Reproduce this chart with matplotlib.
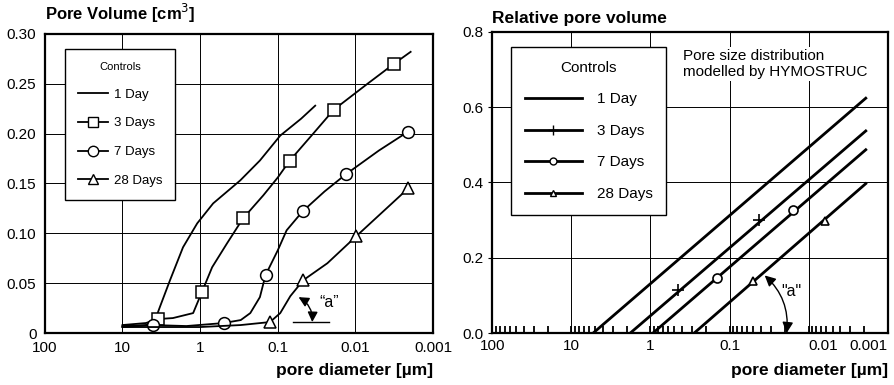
import numpy as np
import matplotlib
matplotlib.use("Agg")
import matplotlib.pyplot as plt

plt.rcParams['font.family'] = ['Liberation Sans', 'DejaVu Sans']

# ---- left panel: measured pore volume (cm3) vs pore diameter (um)
labels = ["1 Day", "3 Days", "7 Days", "28 Days"]

d1 = [10, 5, 3.8, 3.3, 2.44, 1.66, 1.09, 0.68, 0.305, 0.17, 0.093, 0.05, 0.033]
v1 = [0.007, 0.008, 0.013, 0.026, 0.053, 0.086, 0.110, 0.130, 0.153, 0.173, 0.198, 0.215, 0.228]

d3 = [10, 5, 3.5, 2.24, 1.23, 0.95, 0.70, 0.45, 0.28, 0.154, 0.10, 0.07, 0.035, 0.019, 0.007, 0.0032, 0.00195]
v3 = [0.008, 0.010, 0.014, 0.015, 0.020, 0.041, 0.066, 0.090, 0.115, 0.138, 0.156, 0.173, 0.200, 0.224, 0.250, 0.270, 0.282]
d3_mk = [3.5, 0.95, 0.28, 0.07, 0.019, 0.0032]
v3_mk = [0.014, 0.041, 0.115, 0.173, 0.224, 0.270]

d7 = [10, 4.1, 1.5, 0.5, 0.3, 0.226, 0.17, 0.144, 0.10, 0.077, 0.048, 0.025, 0.0134, 0.005, 0.0021]
v7 = [0.006, 0.008, 0.007, 0.010, 0.013, 0.020, 0.036, 0.058, 0.083, 0.103, 0.122, 0.142, 0.159, 0.183, 0.202]
d7_mk = [4.1, 0.5, 0.144, 0.048, 0.0134, 0.0021]
v7_mk = [0.008, 0.010, 0.058, 0.122, 0.159, 0.202]

d28 = [10, 1, 0.3, 0.126, 0.093, 0.069, 0.047, 0.023, 0.0098, 0.0021]
v28 = [0.006, 0.006, 0.008, 0.011, 0.020, 0.037, 0.053, 0.070, 0.097, 0.145]
d28_mk = [0.126, 0.047, 0.0098, 0.0021]
v28_mk = [0.011, 0.053, 0.097, 0.145]

# ---- right panel: HYMOSTRUC model, straight lines (start, end)
m_d = [[5.3, 0.0019], [1.8, 0.0019], [0.93, 0.0019], [0.28, 0.0019]]
m_v = [[0.0, 0.624], [0.0, 0.537], [0.0, 0.487], [0.0, 0.397]]
m_mk_d = [None, [0.45, 0.042], [0.144, 0.016], [0.05, 0.0063]]
m_mk_v = [None, [0.113, 0.300], [0.147, 0.326], [0.137, 0.297]]

xticks = [100, 10, 1, 0.1, 0.01, 0.001]
xticklabels = ["100", "10", "1", "0.1", "0.01", "0.001"]

fig = plt.figure(figsize=(8.95, 3.85), dpi=100)
ax1 = fig.add_axes([0.050, 0.135, 0.434, 0.777])
ax2 = fig.add_axes([0.550, 0.135, 0.442, 0.782])

TICK_FS = 11
for ax in (ax1, ax2):
    ax.set_xscale('log')
    ax.set_xlim(100, 0.001)
    for s in ax.spines.values():
        s.set_linewidth(1.6)
    ax.grid(True, which='major', color='black', lw=0.7)
    ax.set_axisbelow(True)
    ax.set_xticks(xticks)
    ax.set_xticklabels(xticklabels, fontsize=TICK_FS)

# left
ax1.set_ylim(0, 0.30)
ax1.set_yticks([0, 0.05, 0.10, 0.15, 0.20, 0.25, 0.30])
ax1.set_yticklabels(["0", "0.05", "0.10", "0.15", "0.20", "0.25", "0.30"], fontsize=TICK_FS)
ax1.tick_params(which='both', length=0, pad=6)
ax1.minorticks_off()

lw = 1.3
MS = 8.5
ax1.plot(d1, v1, color='black', lw=lw)
ax1.plot(d3, v3, color='black', lw=lw)
ax1.plot(d3_mk, v3_mk, ls='none', marker='s', ms=MS, mfc='white', mec='black', mew=1.1)
ax1.plot(d7, v7, color='black', lw=lw)
ax1.plot(d7_mk, v7_mk, ls='none', marker='o', ms=MS, mfc='white', mec='black', mew=1.1)
ax1.plot(d28, v28, color='black', lw=lw)
ax1.plot(d28_mk, v28_mk, ls='none', marker='^', ms=MS, mfc='white', mec='black', mew=1.1)

h1 = [plt.Line2D([], [], color='black', lw=lw, marker=m, ms=7.5, mfc='white', mec='black')
      for m in ['', 's', 'o', '^']]
leg1 = ax1.legend(h1, labels, title="Controls", loc='upper left', bbox_to_anchor=(0.052, 0.95),
                  borderaxespad=0, frameon=True, fancybox=False, edgecolor='black',
                  fontsize=9.5, title_fontsize=8, handlelength=2.3, labelspacing=1.25,
                  borderpad=1.0, handletextpad=0.4)
leg1.get_frame().set_linewidth(1.0)
leg1.get_frame().set_alpha(1)

ax1.text(0, 1.03, "Pore Volume [cm$^3$]", transform=ax1.transAxes, fontsize=12,
         fontweight='bold', ha='left', va='bottom')
ax1.text(1.0, -0.10, "pore diameter [\u00b5m]", transform=ax1.transAxes, fontsize=12.5,
         fontweight='bold', ha='right', va='top')

# "a" angle marker left
ax1.plot([0.063, 0.022], [0.011, 0.011], color='black', lw=1)
ax1.annotate("", xy=(0.054, 0.036), xytext=(0.036, 0.011),
             arrowprops=dict(arrowstyle='<|-|>', color='black', lw=1, mutation_scale=15,
                             shrinkA=0, shrinkB=0, connectionstyle='arc3,rad=0.3'))
ax1.text(0.022, 0.031, "\u201ca\u201d", fontsize=11.5, ha='center', va='center')

# right
ax2.set_ylim(0, 0.8)
ax2.set_yticks([0, 0.2, 0.4, 0.6, 0.8])
ax2.set_yticklabels(["0.0", "0.2", "0.4", "0.6", "0.8"], fontsize=TICK_FS)
ax2.tick_params(which='major', length=3, pad=3)
ax2.xaxis.set_minor_locator(matplotlib.ticker.LogLocator(base=10, subs=np.arange(2, 10), numticks=20))
ax2.tick_params(axis='x', which='minor', direction='in', length=5, width=1.3)
ax2.tick_params(axis='x', which='major', direction='in', length=5, width=1.3, pad=4)
ax2.tick_params(axis='y', which='minor', length=0)
for lab in ax2.get_xticklabels():
    if lab.get_text() == "0.001":
        lab.set_ha('right')
    elif lab.get_text() == "0.01":
        lab.set_ha('left')

mk = ['', '+', 'o', '^']
ms = [0, 9, 6.5, 5.5]
for i in range(4):
    ax2.plot(m_d[i], m_v[i], color='black', lw=2.0)
    if m_mk_d[i] is not None:
        ax2.plot(m_mk_d[i], m_mk_v[i], ls='none', marker=mk[i], ms=ms[i], mfc='white',
                 mec='black', mew=1.2)

h2 = [plt.Line2D([], [], color='black', lw=2.0, marker=mk[i], ms=[0, 7, 5, 4][i],
                 mfc='white', mec='black') for i in range(4)]
leg2 = ax2.legend(h2, labels, title="Controls", loc='upper left', bbox_to_anchor=(0.048, 0.95),
                  borderaxespad=0, frameon=True, fancybox=False, edgecolor='black',
                  fontsize=11, title_fontsize=11, handlelength=3.7, labelspacing=1.15,
                  borderpad=0.9, handletextpad=1.0)
leg2.get_frame().set_linewidth(1.0)
leg2.get_frame().set_alpha(1)

ax2.text(0.482, 0.945, "Pore size distribution\nmodelled by HYMOSTRUC", transform=ax2.transAxes,
         fontsize=11, ha='left', va='top', linespacing=1.25,
         bbox=dict(facecolor='white', edgecolor='none', pad=1))

ax2.text(0, 1.02, "Relative pore volume", transform=ax2.transAxes, fontsize=12.5,
         fontweight='bold', ha='left', va='bottom')
ax2.text(1.0, -0.10, "pore diameter [\u00b5m]", transform=ax2.transAxes, fontsize=12.5,
         fontweight='bold', ha='right', va='top')

# "a" angle marker right
ax2.annotate("", xy=(0.036, 0.153), xytext=(0.019, 0.0),
             arrowprops=dict(arrowstyle='<|-|>', color='black', lw=1, mutation_scale=16,
                             shrinkA=0, shrinkB=0, connectionstyle='arc3,rad=0.25'))
ax2.text(0.0165, 0.11, "\"a\"", fontsize=11.5, ha='center', va='center')

fig.savefig("out.png", dpi=100)
